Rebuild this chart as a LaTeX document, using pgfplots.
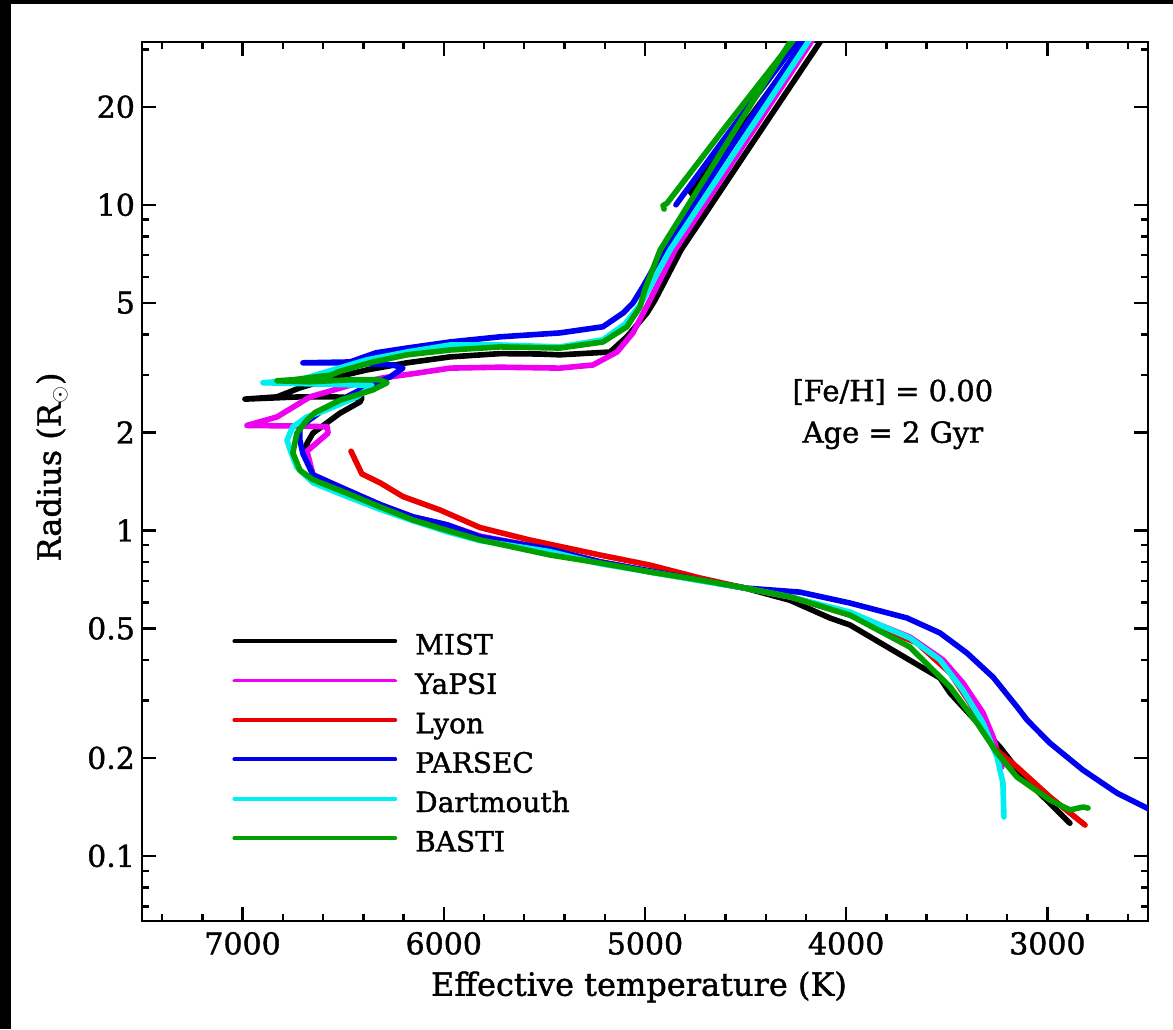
\documentclass[border=0pt]{standalone}
\usepackage{fontspec}
\setmainfont{DejaVu Serif}[FakeBold=1.3,AutoFakeBold=1.3]
\newfontfamily\medf{DejaVu Serif}[FakeBold=1.3]
\usepackage{pgfplots}
\pgfplotsset{compat=1.18}
\definecolor{bgreen}{RGB}{0,160,0}
\definecolor{bcyan}{RGB}{0,240,240}
\definecolor{bblue}{RGB}{0,0,240}
\definecolor{bred}{RGB}{235,0,0}
\definecolor{bmag}{RGB}{240,0,240}
\begin{document}
\begin{tikzpicture}
\useasboundingbox (-71pt,-54pt) rectangle (515.5pt,460.5pt);
\fill[black] (-71pt,-54pt) rectangle (-65.5pt,460.5pt);
\fill[black] (-71pt,458.5pt) rectangle (515.5pt,460.5pt);
\begin{axis}[
  at={(0pt,0pt)}, anchor=south west,
  scale only axis, width=503pt, height=439.5pt,
  x dir=reverse, xmin=2500, xmax=7500,
  ymode=log, ymin=0.0631, ymax=31.62,
  xtick={3000,4000,5000,6000,7000},
  xticklabels={3000,4000,5000,6000,7000},
  minor xtick={2600,2800,3200,3400,3600,3800,4200,4400,4600,4800,5200,5400,5600,5800,6200,6400,6600,6800,7200,7400},
  ytick={0.1,0.2,0.5,1,2,5,10,20},
  yticklabels={0.1,0.2,0.5,1,2,5,10,20},
  minor ytick={0.07,0.08,0.09,0.3,0.4,0.6,0.7,0.8,0.9,3,4,6,7,8,9,30},
  tick align=inside,
  major tick length=7pt, minor tick length=3.5pt,
  tick style={black, line width=1.2pt},
  axis line style={line width=1.3pt},
  tick label style={font=\fontsize{15}{18}\selectfont\medf},
  xticklabel style={yshift=-2pt},
  xlabel={Effective temperature (K)},
  ylabel={Radius (R$_\odot$)},
  label style={font=\fontsize{16}{19}\selectfont\medf},
  xlabel style={at={(axis description cs:0.494,-0.075)}, anchor=center},
  ylabel style={at={(axis description cs:-0.0895,0.5165)}, anchor=center},
  legend cell align=left,
  legend style={draw=none, fill=none, at={(0.0895,0.331)}, anchor=north west,
    inner sep=0pt, column sep=9pt, row sep=0pt,
    font=\fontsize{14}{17}\selectfont\medf,
    nodes={inner sep=0pt, text height=12pt, text depth=7.7pt}},
  legend image code/.code={\draw[#1, line width=1.9pt] (0pt,4.5pt) -- (80.5pt,4.5pt);},
  every axis plot/.append style={line width=2.8pt, line join=round, line cap=round},
]
% MIST
\addplot[black] coordinates {
(2888,0.126) (3121,0.175) (3236,0.216) (3483,0.316) (3534,0.352) (3981,0.512) (4081,0.538) (4280,0.61) (4503,0.665) (4727,0.704) (4975,0.745) (5224,0.80) (5472,0.87) (5820,0.95) (5984,1.02) (6153,1.09) (6317,1.19) (6481,1.32) (6650,1.48) (6680,1.70) (6680,1.85) (6650,1.99) (6516,2.29) (6416,2.48) (6407,2.55) (6551,2.57) (6715,2.57) (6988,2.53) (6829,2.57) (6715,2.74) (6551,2.94) (6382,3.11) (6183,3.27) (5969,3.41) (5721,3.49) (5522,3.48) (5423,3.46) (5174,3.53) (5090,3.93) (4990,4.65) (4950,5.10) (4821,7.26) (4476,15.15) (4130,31.6) (4090,34.4)};
\addlegendentry{MIST}
\addplot[black, forget plot] coordinates {
(4761,10.7) (4776,11.0) (4478,18.6) (4205,31.6) (4165,34.4)};
% YaPSI
\addplot[bmag] coordinates {
(3226,0.1875) (3270,0.232) (3320,0.275) (3420,0.340) (3519,0.400) (3683,0.470) (3981,0.557) (4280,0.625) (4503,0.665) (4727,0.704) (4975,0.75) (5224,0.80) (5472,0.875) (5820,0.96) (5984,1.04) (6153,1.10) (6317,1.20) (6481,1.33) (6650,1.48) (6680,1.75) (6575,1.99) (6580,2.08) (6700,2.09) (6978,2.10) (6829,2.23) (6665,2.57) (6466,2.79) (6302,2.94) (6133,3.04) (5969,3.15) (5721,3.17) (5423,3.15) (5259,3.22) (5139,3.53) (5060,4.04) (4975,5.10) (4851,7.26) (4513,15.15) (4175,31.6) (4135,34.4)};
\addlegendentry{YaPSI}
% Lyon
\addplot[bred] coordinates {
(2813,0.1244) (2987,0.1517) (3151,0.1875) (3270,0.216) (3385,0.295) (3483,0.3645) (3648,0.451) (3981,0.549) (4280,0.625) (4503,0.665) (4727,0.714) (4975,0.782) (5224,0.84) (5572,0.934) (5820,1.02) (6019,1.155) (6203,1.27) (6317,1.40) (6407,1.49) (6461,1.75)};
\addlegendentry{Lyon}
% PARSEC
\addplot[bblue] coordinates {
(2450,0.133) (2505,0.1403) (2654,0.156) (2823,0.1835) (2987,0.222) (3101,0.2615) (3151,0.287) (3270,0.354) (3400,0.420) (3534,0.484) (3698,0.538) (3981,0.598) (4230,0.646) (4503,0.665) (4727,0.704) (4975,0.75) (5224,0.80) (5472,0.875) (5820,0.955) (5984,1.04) (6153,1.10) (6317,1.20) (6481,1.33) (6650,1.48) (6700,1.72) (6715,1.89) (6715,2.08) (6580,2.39) (6416,2.70) (6267,2.96) (6203,3.15) (6252,3.22) (6466,3.27) (6700,3.27) (6466,3.29) (6337,3.51) (6183,3.63) (5969,3.79) (5721,3.93) (5423,4.04) (5209,4.22) (5109,4.65) (5060,4.99) (5010,5.6) (4906,7.26) (4568,15.15) (4215,31.6) (4175,34.4)};
\addlegendentry{PARSEC}
\addplot[bblue, forget plot] coordinates {
(4846,10.0) (4836,10.2) (4544,17.96) (4245,31.6) (4205,34.4)};
% Dartmouth
\addplot[bcyan] coordinates {
(3216,0.1317) (3221,0.1675) (3250,0.201) (3320,0.256) (3420,0.323) (3534,0.400) (3683,0.467) (3981,0.561) (4280,0.625) (4503,0.665) (4727,0.70) (4975,0.745) (5224,0.79) (5472,0.86) (5820,0.93) (5984,0.99) (6153,1.07) (6317,1.16) (6481,1.27) (6650,1.40) (6730,1.56) (6764,1.77) (6779,1.89) (6764,1.99) (6750,2.08) (6680,2.23) (6586,2.34) (6431,2.57) (6367,2.75) (6357,2.79) (6899,2.84) (6715,2.90) (6551,3.11) (6382,3.34) (6183,3.53) (5969,3.71) (5721,3.71) (5423,3.66) (5209,3.85) (5100,4.3) (5025,4.92) (4975,5.59) (4876,7.26) (4533,15.15) (4190,31.6) (4150,34.4)};
\addlegendentry{Dartmouth}
% BASTI
\addplot[bgreen] coordinates {
(2798,0.1403) (2823,0.1413) (2888,0.1384) (2987,0.1484) (3151,0.1747) (3250,0.207) (3350,0.256) (3483,0.330) (3683,0.438) (3981,0.549) (4280,0.625) (4503,0.665) (4727,0.704) (4975,0.745) (5224,0.794) (5472,0.84) (5820,0.934) (5984,1.00) (6153,1.076) (6317,1.18) (6481,1.30) (6650,1.43) (6715,1.53) (6750,1.73) (6730,1.99) (6680,2.18) (6640,2.30) (6516,2.51) (6352,2.70) (6282,2.84) (6317,2.90) (6466,2.90) (6665,2.86) (6829,2.88) (6750,2.90) (6560,3.00) (6516,3.08) (6352,3.29) (6183,3.46) (5969,3.58) (5721,3.66) (5423,3.63) (5209,3.79) (5090,4.22) (5025,4.85) (5000,5.5) (4925,7.26) (4602,15.15) (4279,31.6) (4239,34.4)};
\addlegendentry{BASTI}
\addplot[bgreen, forget plot] coordinates {
(4905,9.7) (4910,9.95) (4891,10.1) (4592,17.6) (4270,31.6) (4230,34.4)};
\node[font=\fontsize{14.5}{17}\selectfont\medf] at (axis cs:3768,2.66) {[Fe/H] = 0.00};
\node[font=\fontsize{14.5}{17}\selectfont\medf] at (axis cs:3768,1.96) {Age = 2 Gyr};
\end{axis}
\end{tikzpicture}
\end{document}
